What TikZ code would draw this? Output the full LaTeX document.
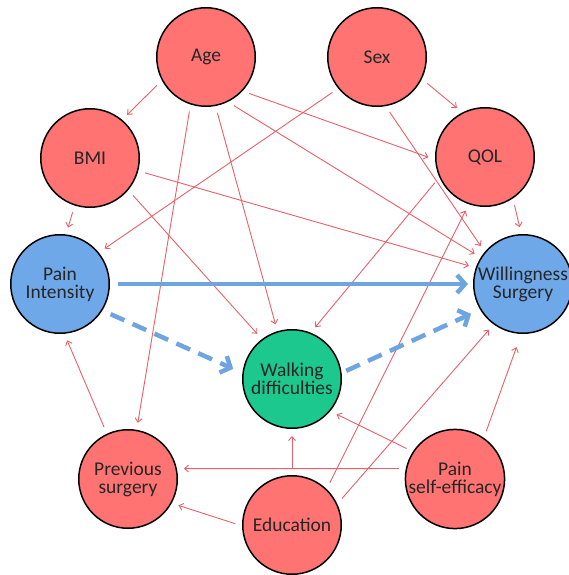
\documentclass[tikz,border=0pt]{standalone}
\usepackage{fontspec}
\setmainfont{Carlito}
\usepackage{xcolor}
\usepackage{tikz}
\usetikzlibrary{arrows.meta}

\definecolor{varred}{RGB}{255,115,115}
\definecolor{varblue}{RGB}{111,168,232}
\definecolor{vargreen}{RGB}{28,200,142}
\definecolor{linkred}{RGB}{232,96,106}
\definecolor{linkblue}{RGB}{110,165,225}

\begin{document}
\begin{tikzpicture}[
    x=1pt, y=-1pt,
    var/.style={circle, draw=black, line width=1.5pt, fill=varred, minimum size=98.5pt, inner sep=0pt, align=center, font=\fontsize{19.5}{18}\selectfont, text=black!85},
    arrow/.style={-{Straight Barb[length=4pt,width=7pt]}, line width=0.9pt, draw=linkred, shorten <=7pt, shorten >=7pt},
    effect/.style={-{Straight Barb[length=8pt,width=18pt]}, line width=4.5pt, draw=linkblue},
    mediated/.style={effect, dash pattern=on 15pt off 9pt}
]
\useasboundingbox (0,0) rectangle (569,575);

\node[var] (age) at (206,57) {Age};
\node[var] (sex) at (377,57) {Sex};
\node[var] (bmi) at (90,158) {BMI};
\node[var] (qol) at (485,157) {QOL};
\node[var, fill=varblue] (pain) at (60,284) {Pain\\Intensity};
\node[var, fill=varblue] (will) at (523,284) {Willingness\\Surgery};
\node[var, fill=vargreen] (walk) at (292,379) {Walking\\difficulties};
\node[var] (prev) at (128,479) {Previous\\surgery};
\node[var] (edu) at (292,525) {Education};
\node[var] (self) at (455,479) {Pain\\self-efficacy};

\draw[arrow] (age.-152) -- (bmi.50);
\draw[arrow] (bmi.-108) -- (pain.83);
\draw[arrow] (sex.-141) -- (pain.39);
\draw[arrow] (sex.-26) -- (qol.117);
\draw[arrow] (qol.-56) -- (will.92);
\draw[arrow] (age.-43) -- (qol.183);
\draw[arrow] (age.-64) -- (will.148);
\draw[arrow] (age.-79) -- (walk.107);
\draw[arrow] (age.-108) -- (prev.80);
\draw[arrow] (bmi.-15) -- (will.161);
\draw[arrow] (bmi.-40) -- (walk.127);
\draw[arrow] (sex.-80) -- (will.140);
\draw[arrow] (qol.-156) -- (walk.68);
\draw[arrow] (edu.46) -- (qol.-109);
\draw[arrow] (edu.25) -- (will.-126);
\draw[arrow, shorten >=14pt] (self.55) -- (will.-92);
\draw[arrow] (self.147) -- (walk.-40);
\draw[arrow] (self.168) -- (prev.12);
\draw[arrow] (edu.90) -- (walk.-90);
\draw[arrow] (edu.181) -- (prev.-29);
\draw[arrow] (prev.115) -- (pain.-85);

\draw[effect, shorten <=8pt, shorten >=5pt] (pain.0) -- (will.180);
\draw[mediated, shorten <=9pt, shorten >=10pt] (pain.-32) -- (walk.173);
\draw[mediated, shorten <=5pt, shorten >=10pt] (walk.7) -- (will.-149);
\end{tikzpicture}
\end{document}
